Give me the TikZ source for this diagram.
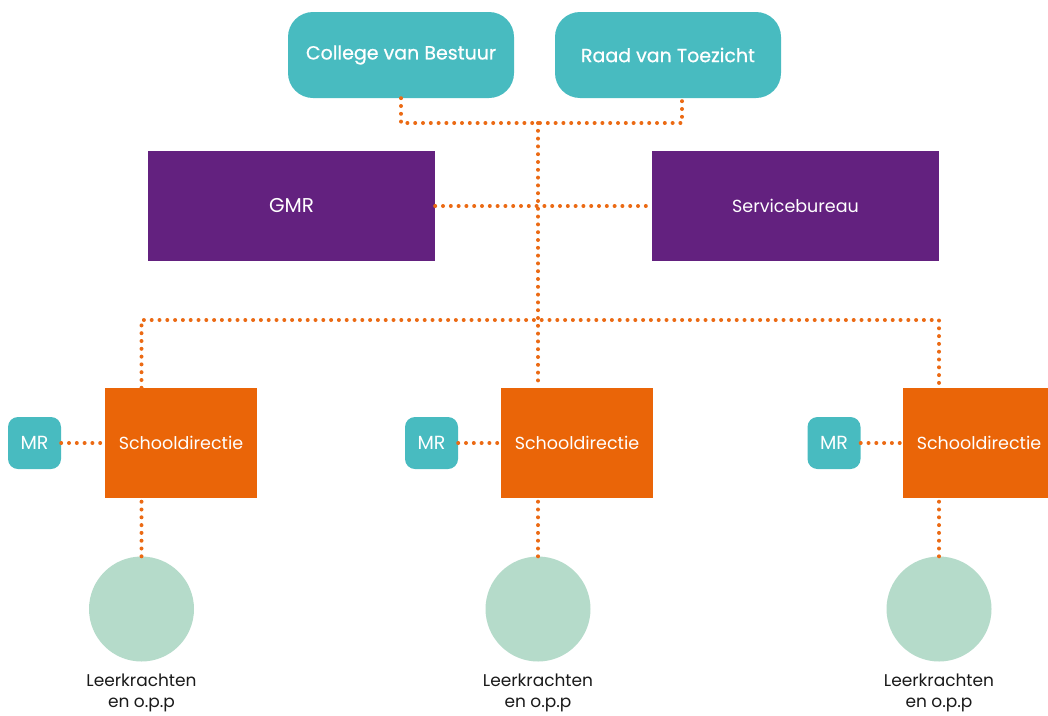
\documentclass[tikz,border=0pt]{standalone}
\usepackage{fontspec}
\setmainfont{Poppins}
\newfontfamily\medfont{Poppins}[FakeBold=0.7]
\usetikzlibrary{calc}
\definecolor{teal}{HTML}{48BBC0}
\definecolor{purp}{HTML}{63217F}
\definecolor{oran}{HTML}{EA6508}
\definecolor{mint}{HTML}{B5DBCA}
\definecolor{dotc}{HTML}{EB6A14}
\definecolor{txt}{HTML}{1A1A1A}
\tikzset{
  topbox/.style={fill=teal, rounded corners=25pt, minimum width=226pt, minimum height=86pt, inner sep=0pt, text=white, font=\medfont\fontsize{19}{22}\selectfont},
  midbox/.style={fill=purp, minimum width=287pt, minimum height=110pt, inner sep=0pt, text=white, font=\fontsize{17.5}{20}\selectfont},
  schoolbox/.style={fill=oran, minimum width=152pt, minimum height=110pt, inner sep=0pt, text=white, font=\fontsize{17.5}{20}\selectfont},
  mrbox/.style={fill=teal, rounded corners=10pt, minimum width=53pt, minimum height=52pt, inner sep=0pt, text=white, font=\fontsize{19}{22}\selectfont},
  circ/.style={fill=mint, circle, minimum size=105pt, inner sep=0pt},
  lbl/.style={text=txt, align=center, font=\fontsize{17}{21}\selectfont, inner sep=0pt},
  dots/.style={draw=dotc, line width=4pt, line cap=round, dash pattern=on 0pt off 7.8pt},
}
\begin{document}
\begin{tikzpicture}[x=1pt,y=-1pt]
\useasboundingbox (0,0) rectangle (1048,715);
\clip (0,0) rectangle (1048,715);
% nodes
\node[topbox] (cvb) at (401,55) {\raisebox{-2pt}{College van Bestuur}};
\node[topbox] (rvt) at (668,55) {\raisebox{-2pt}{Raad van Toezicht}};
\node[midbox] (gmr) at (291.5,206) {\fontsize{20}{22}\selectfont GMR};
\node[midbox] (sb) at (795.5,206) {Servicebureau};
\node[schoolbox] (sd1) at (181,443) {Schooldirectie};
\node[schoolbox] (sd2) at (577,443) {Schooldirectie};
\node[schoolbox] (sd3) at (979,443) {Schooldirectie};
\node[mrbox] (mr1) at (34.5,443) {MR};
\node[mrbox] (mr2) at (431.5,443) {MR};
\node[mrbox] (mr3) at (834,443) {MR};
\node[circ] (c1) at (141.5,609) {};
\node[circ] (c2) at (538,609) {};
\node[circ] (c3) at (939,609) {};
\node[lbl, anchor=north] (l1) at (141.5,674) {Leerkrachten\\en o.p.p};
\node[lbl, anchor=north] (l2) at (538,674) {Leerkrachten\\en o.p.p};
\node[lbl, anchor=north] (l3) at (939,674) {Leerkrachten\\en o.p.p};
% junctions
\coordinate (j) at (538,123);
\coordinate (rj) at (682,98);
\coordinate (b1) at (141.5,320);
\coordinate (b3) at (939,320);
% connectors
\draw[dots] (cvb.south) |- (j) -| (rj);
\draw[dots] (j) -- (j |- sd2.north);
\draw[dots] (gmr.east) -- (sb.west);
\draw[dots] (b1 |- sd1.north) -- (b1) -- (b3) -- (b3 |- sd3.north);
\draw[dots] (mr1.east) -- (sd1.west);
\draw[dots] (mr2.east) -- (sd2.west);
\draw[dots] (mr3.east) -- (sd3.west);
\draw[dots] (c1.north) -- (c1.north |- sd1.south);
\draw[dots] (c2.north) -- (c2.north |- sd2.south);
\draw[dots] (c3.north) -- (c3.north |- sd3.south);
\end{tikzpicture}
\end{document}
